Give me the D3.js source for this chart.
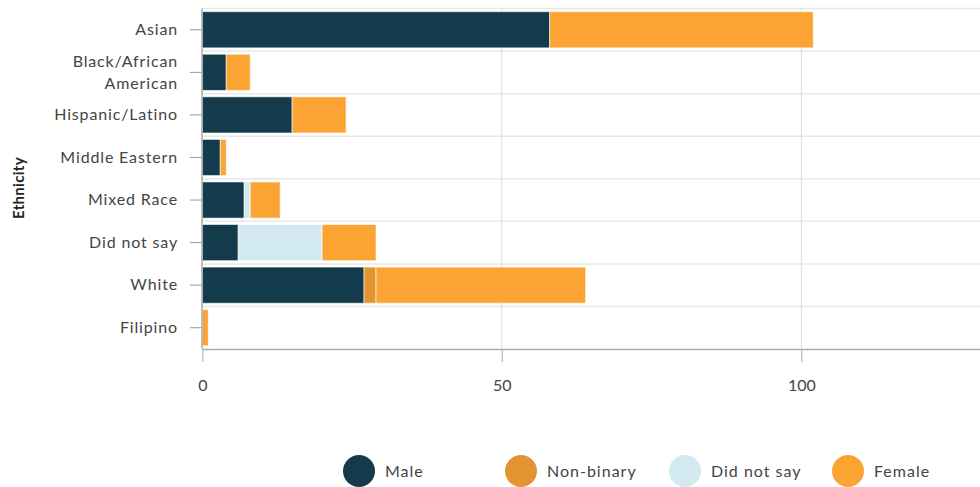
<!DOCTYPE html>
<html><head><meta charset="utf-8">
<script src="https://cdn.jsdelivr.net/npm/d3@7"></script>
<style>body{margin:0;background:#fff;}svg{display:block;font-family:Lato,"Open Sans",sans-serif;}</style>
</head><body>
<svg id="chart" width="980" height="487"></svg>
<script>
const categories = ["Asian","Black/African American","Hispanic/Latino","Middle Eastern","Mixed Race","Did not say","White","Filipino"];
const seriesNames = ["Male","Non-binary","Did not say","Female"];
const male      = [58, 4, 15, 3, 7, 6, 27, 0];
const nonBinary = [0, 0, 0, 0, 0, 0, 2, 0];
const didNotSay = [0, 0, 0, 0, 1, 14, 0, 0];
const female    = [44, 4, 9, 1, 5, 9, 35, 1];
const xTicks = [0, 50, 100];
const colors = ["#133b4b", "#e3932f", "#d3e9f0", "#fba434"];

const rows = categories.map((c, i) => ({cat: c, "Male": male[i], "Non-binary": nonBinary[i], "Did not say": didNotSay[i], "Female": female[i]}));
const stacked = d3.stack().keys(seriesNames)(rows);

const svg = d3.select("#chart");
const x = d3.scaleLinear().domain([0, 130]).range([202.3, 981]);
const y = d3.scaleBand().domain(categories).range([8.5, 349]).paddingInner(0.15).paddingOuter(0.075);
const color = d3.scaleOrdinal().domain(seriesNames).range(colors);

// horizontal gridlines at band boundaries
const bounds = categories.map((c, i) => 8.5 + i * (349 - 8.5) / categories.length);
svg.append("g").selectAll("line").data(bounds).join("line")
  .attr("x1", 202).attr("x2", 980).attr("y1", d => d).attr("y2", d => d)
  .attr("stroke", "#e8e8e8").attr("stroke-width", 1.5);

// vertical gridlines
svg.append("g").selectAll("line").data(xTicks.filter(t => t > 0)).join("line")
  .attr("x1", d => x(d)).attr("x2", d => x(d)).attr("y1", 8.5).attr("y2", 349)
  .attr("stroke", "#dcdcdc").attr("stroke-width", 1);

// bars
svg.append("g").selectAll("g").data(stacked).join("g")
  .attr("fill", d => color(d.key))
  .selectAll("rect").data(d => d.filter(p => p[1] - p[0] > 0)).join("rect")
  .attr("x", d => x(d[0])).attr("width", d => x(d[1]) - x(d[0]))
  .attr("y", d => y(d.data.cat)).attr("height", y.bandwidth())
  .attr("stroke", "rgba(255,255,255,0.6)").attr("stroke-width", 1);

// x axis
const xAxis = svg.append("g").attr("transform", "translate(0,349)")
  .call(d3.axisBottom(x).tickValues(xTicks).tickSize(13).tickPadding(18).tickSizeOuter(0));
xAxis.select(".domain").attr("stroke", "#aaa").attr("stroke-width", 1.5);
xAxis.selectAll(".tick line").attr("stroke", "#aaa");
xAxis.selectAll("text").attr("font-size", 16).attr("fill", "#444").attr("font-family", "Lato, sans-serif");

// y axis
const yAxis = svg.append("g").attr("transform", "translate(202,0)")
  .call(d3.axisLeft(y).tickSize(12).tickPadding(12).tickSizeOuter(0));
yAxis.select(".domain").attr("stroke", "#aaa").attr("stroke-width", 1.5).attr("d", "M0,8.5V349");
yAxis.selectAll(".tick line").attr("stroke", "#999");
yAxis.selectAll(".tick text").attr("font-size", 16).attr("letter-spacing", "0.85px")
  .attr("fill", "#444").attr("font-family", "Lato, sans-serif")
  .each(function(d) {
    if (d === "Black/African American") {
      const t = d3.select(this).text(null);
      t.append("tspan").attr("x", -24).attr("dy", "-0.35em").text("Black/African");
      t.append("tspan").attr("x", -24).attr("dy", "1.4em").text("American");
    }
  });

// y axis title
svg.append("text").attr("transform", "translate(24,188) rotate(-90)")
  .attr("text-anchor", "middle").attr("font-size", 15).attr("font-weight", "bold")
  .attr("letter-spacing", "0.3px").attr("fill", "#222").text("Ethnicity");

// legend
const legendX = [359, 521, 685, 848];
const lg = svg.append("g").selectAll("g").data(seriesNames).join("g")
  .attr("transform", (d, i) => `translate(${legendX[i]},471)`);
lg.append("ellipse").attr("rx", 16).attr("ry", 16).attr("fill", d => color(d));
lg.append("text").attr("x", 26).attr("y", 0).attr("dy", "0.35em")
  .attr("font-size", 16).attr("letter-spacing", "1px").attr("fill", "#444").text(d => d);
</script>
</body></html>
